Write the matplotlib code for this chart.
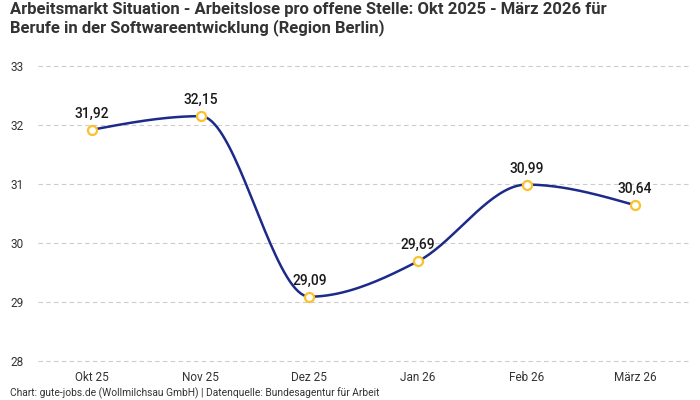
import numpy as np
import matplotlib
matplotlib.use("Agg")
import matplotlib.pyplot as plt

plt.rcParams['font.family'] = ['Roboto', 'DejaVu Sans']

months = ["Okt 25", "Nov 25", "Dez 25", "Jan 26", "Feb 26", "März 26"]
values = [31.92, 32.15, 29.09, 29.69, 30.99, 30.64]
yticks = [28, 29, 30, 31, 32, 33]

title = ("Arbeitsmarkt Situation - Arbeitslose pro offene Stelle: Okt 2025 - März 2026 für\n"
         "Berufe in der Softwareentwicklung (Region Berlin)")
footer = "Chart: gute-jobs.de (Wollmilchsau GmbH) | Datenquelle: Bundesagentur für Arbeit"


def monotone_x(x, y, n=40):
    x = np.asarray(x, float); y = np.asarray(y, float)
    h = np.diff(x); s = np.diff(y) / h
    m = np.zeros_like(y)
    for i in range(1, len(y) - 1):
        if s[i-1] * s[i] <= 0:
            m[i] = 0
        else:
            p = (s[i-1] * h[i] + s[i] * h[i-1]) / (h[i-1] + h[i])
            m[i] = (np.sign(s[i-1]) + np.sign(s[i])) * min(abs(s[i-1]), abs(s[i]), 0.5 * abs(p))
    m[0] = (3 * s[0] - m[1]) / 2 if len(y) > 2 else s[0]
    m[-1] = (3 * s[-1] - m[-2]) / 2 if len(y) > 2 else s[-1]
    xs, ys = [], []
    for i in range(len(x) - 1):
        t = np.linspace(0, 1, n)
        h00 = 2*t**3 - 3*t**2 + 1; h10 = t**3 - 2*t**2 + t
        h01 = -2*t**3 + 3*t**2; h11 = t**3 - t**2
        xs.append(x[i] + t * h[i])
        ys.append(h00*y[i] + h10*h[i]*m[i] + h01*y[i+1] + h11*h[i]*m[i+1])
    return np.concatenate(xs), np.concatenate(ys)


fig = plt.figure(figsize=(7, 4), dpi=100)
ax = fig.add_axes([0.054, 0.0975, 0.931, 0.7375])

xpos = np.arange(len(months))
cx, cy = monotone_x(xpos, values)
ax.plot(cx, cy, color='#1c2a8a', lw=1.8, zorder=3, solid_capstyle='round')
ax.plot(xpos, values, 'o', ms=6.5, mfc='white', mec='#fbc02d', mew=1.6, zorder=4)

for xi, v in zip(xpos, values):
    ax.annotate(f"{v:.2f}".replace('.', ','), (xi, v), xytext=(0, 6.5),
                textcoords='offset points', ha='center', va='bottom',
                fontsize=10, fontweight='medium', color='#1a1a1a', zorder=5)

ax.set_xlim(-0.5, len(months) - 0.5)
ax.set_ylim(28, 33)
ax.set_yticks(yticks)
ax.set_yticklabels([str(t) for t in yticks])
ax.set_xticks(xpos)
ax.set_xticklabels(months)
ax.tick_params(axis='both', length=0, labelsize=8.5, labelcolor='#333333')
ax.tick_params(axis='x', pad=7)
ax.tick_params(axis='y', pad=20)
for lab in ax.get_yticklabels():
    lab.set_horizontalalignment('left')
ax.grid(axis='y', linestyle=(0, (4, 3)), color='#cccccc', lw=0.8)
for gl in ax.get_ygridlines():
    gl.set_clip_on(False)
ax.set_axisbelow(True)
for sp in ax.spines.values():
    sp.set_visible(False)

fig.text(0.014, 0.995, title, ha='left', va='top', fontsize=12, fontweight='bold',
         color='#333333', linespacing=1.15)
fig.text(0.014, 0.009, footer, ha='left', va='baseline', fontsize=7.4, color='#333333')

fig.savefig('out.png', dpi=100)
